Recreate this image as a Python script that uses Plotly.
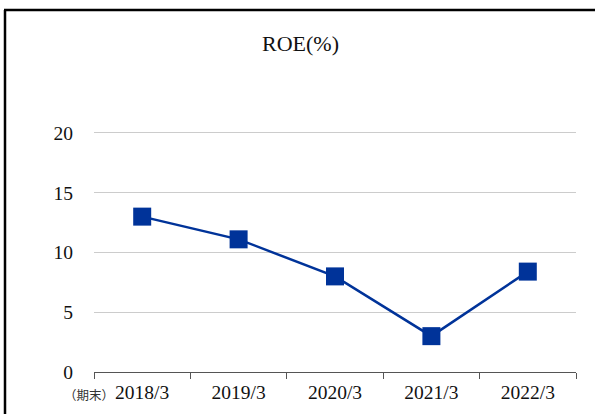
import plotly.graph_objects as go

categories = ["2018/3", "2019/3", "2020/3", "2021/3", "2022/3"]
roe = [13.0, 11.1, 8.0, 3.0, 8.4]
y_ticks = [0, 5, 10, 15, 20]

W, H = 595, 414
L, R, T, B = 94, 19, 127, 42
pw, ph = W - L - R, H - T - B

def px(x):
    return (x - L) / pw

def py(y):
    return (H - B - y) / ph

color = "#003399"
fig = go.Figure()
fig.add_trace(go.Scatter(
    x=categories, y=roe, mode="lines+markers",
    line=dict(color=color, width=2.5),
    marker=dict(symbol="square", size=18, color=color),
    cliponaxis=False,
))

serif = "Liberation Serif, Times New Roman, serif"
fig.update_layout(
    width=W, height=H,
    margin=dict(l=L, r=R, t=T, b=B),
    paper_bgcolor="white", plot_bgcolor="white",
    showlegend=False,
    font=dict(family=serif, size=19, color="#111"),
    xaxis=dict(
        type="category", tickson="boundaries", ticks="outside", ticklen=6,
        tickcolor="#555", showline=True, linecolor="#555", linewidth=1,
        showgrid=False, tickfont=dict(size=19.5), ticklabelstandoff=3,
        range=[-0.5, 4.5],
    ),
    yaxis=dict(
        range=[0, 20.5], tickvals=y_ticks, showgrid=True, gridcolor="#cccccc",
        gridwidth=1, zeroline=False, showline=False, ticks="",
        tickfont=dict(size=19.5), ticklabelstandoff=20,
    ),
    annotations=[
        dict(text="ROE(%)", xref="paper", yref="paper", x=px(300), y=py(43),
             showarrow=False, font=dict(family=serif, size=22, color="#111"),
             xanchor="center", yanchor="middle"),
        dict(text="（期末）", xref="paper", yref="paper", x=px(89), y=py(394),
             showarrow=False, font=dict(family="Noto Sans CJK JP", size=12.5, color="#333"),
             xanchor="center", yanchor="middle"),
    ],
    shapes=[
        dict(type="line", xref="paper", yref="paper", x0=px(5), x1=px(5),
             y0=py(10), y1=py(430), line=dict(color="black", width=2.5)),
        dict(type="line", xref="paper", yref="paper", x0=px(4), x1=px(610),
             y0=py(10), y1=py(10), line=dict(color="black", width=2.5)),
    ],
)

fig.write_html(
    "out.html",
    config={"displayModeBar": False},
    post_script="document.body.style.margin='0';document.body.style.overflow='hidden';",
)
